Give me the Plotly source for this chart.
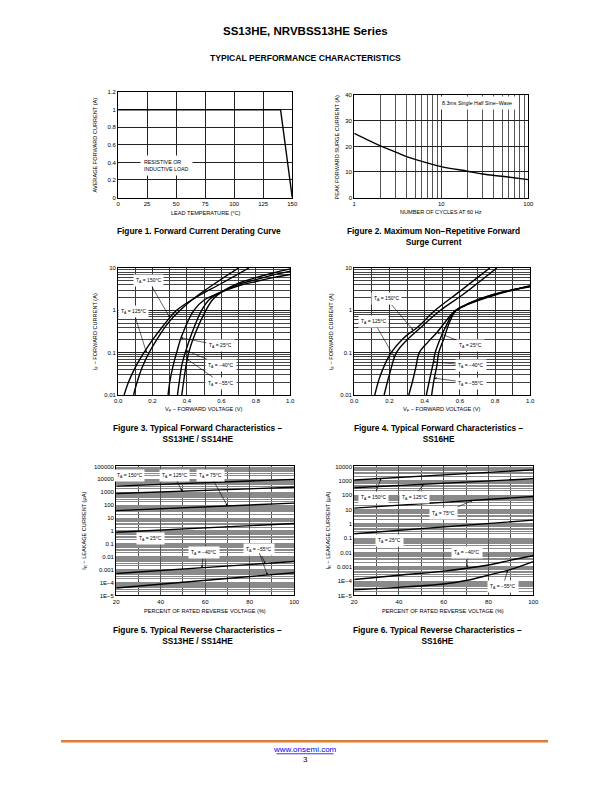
import plotly.graph_objects as go

W, H = 612, 792
FONT = "Liberation Sans, Arial, sans-serif"

# ---------------- data ----------------
# Figure 1: forward current derating
f1_temp = [0, 140, 150]
f1_amp = [1.0, 1.0, 0.0]

# Figure 2: surge current vs cycles
f2_cycles = [1, 2, 3, 4, 5, 10, 20, 30, 50, 100]
f2_amp = [25.1, 20.2, 17.8, 16.0, 14.9, 12.1, 10.3, 9.2, 8.3, 7.0]

# Figure 3: forward characteristics SS13HE / SS14HE
f3_v150 = [0.035, 0.06, 0.10, 0.15, 0.20, 0.26, 0.34, 0.45, 0.60, 0.76]
f3_i150 = [0.01, 0.02, 0.045, 0.1, 0.2, 0.42, 1.0, 2.0, 4.3, 10]
f3_v125 = [0.09, 0.11, 0.14, 0.18, 0.23, 0.29, 0.36, 0.46, 0.58, 0.70]
f3_i125 = [0.01, 0.02, 0.045, 0.1, 0.22, 0.5, 1.0, 2.2, 4.8, 10]
f3_v25 = [0.29, 0.30, 0.32, 0.34, 0.37, 0.44, 0.50, 0.59, 0.70, 0.80, 0.90, 1.0]
f3_i25 = [0.01, 0.02, 0.05, 0.1, 0.25, 1.0, 1.75, 2.6, 3.8, 4.8, 5.9, 7.0]
f3_vm40 = [0.345, 0.355, 0.37, 0.39, 0.43, 0.485, 0.53, 0.59, 0.70, 0.80, 0.90, 1.0]
f3_im40 = [0.01, 0.02, 0.05, 0.1, 0.3, 1.0, 1.8, 2.6, 4.1, 5.3, 6.8, 8.4]
f3_vm55 = [0.37, 0.38, 0.395, 0.41, 0.45, 0.51, 0.55, 0.60, 0.70, 0.80, 0.90, 1.0]
f3_im55 = [0.01, 0.02, 0.05, 0.1, 0.3, 1.0, 1.8, 2.7, 4.4, 5.9, 7.6, 9.5]

# Figure 4: forward characteristics SS16HE
f4_v150 = [0.117, 0.15, 0.21, 0.28, 0.36, 0.46, 0.60, 0.77]
f4_i150 = [0.01, 0.03, 0.1, 0.22, 0.4, 1.0, 2.8, 10]
f4_v125 = [0.17, 0.20, 0.24, 0.30, 0.38, 0.49, 0.62, 0.81]
f4_i125 = [0.01, 0.03, 0.1, 0.2, 0.4, 1.0, 2.4, 10]
f4_v25 = [0.31, 0.33, 0.35, 0.37, 0.42, 0.47, 0.52, 0.57, 0.65, 0.80, 1.0]
f4_i25 = [0.01, 0.02, 0.045, 0.1, 0.18, 0.3, 0.55, 0.95, 1.4, 2.3, 3.8]
f4_vm40 = [0.41, 0.43, 0.45, 0.46, 0.49, 0.53, 0.57, 0.65, 0.80, 1.0]
f4_im40 = [0.01, 0.025, 0.06, 0.1, 0.22, 0.5, 0.95, 1.45, 2.4, 3.7]
f4_vm55 = [0.44, 0.455, 0.47, 0.48, 0.51, 0.54, 0.575, 0.65, 0.80, 1.0]
f4_im55 = [0.01, 0.025, 0.05, 0.1, 0.22, 0.5, 0.95, 1.45, 2.45, 3.6]

# Figure 5: reverse characteristics SS13HE / SS14HE
f5_pct = [20, 100]
f5_i150 = [3000, 10000]
f5_i125 = [800, 2450]
f5_i75 = [38, 145]
f5_i25 = [0.8, 3.8]
f5_im40 = [5e-4, 4.3e-3]
f5_im55 = [3.8e-5, 5.8e-4]

# Figure 6: reverse characteristics SS16HE
f6_pct = [20, 100]
f6_i150 = [1130, 5800]
f6_i125 = [330, 1400]
f6_i75 = [12.4, 81]
f6_i25 = [0.2, 1.8]
f6_pct_m40 = [20, 40, 60, 80, 90, 100]
f6_im40 = [1.3e-4, 2.6e-4, 5e-4, 1.35e-3, 2.9e-3, 5.9e-3]
f6_pct_m55 = [20, 40, 60, 70, 80, 90, 100]
f6_im55 = [2.5e-5, 3.7e-5, 6.3e-5, 1.1e-4, 2.6e-4, 6.6e-4, 2.3e-3]

# tick labels
f1_xticks = [0, 25, 50, 75, 100, 125, 150]
f1_yticks = [0, 0.2, 0.4, 0.6, 0.8, 1.0, 1.2]
f1_ytext = ["0", "0.2", "0.4", "0.6", "0.8", "1", "1.2"]
fwd_xticks = [0, 0.2, 0.4, 0.6, 0.8, 1.0]
fwd_xtext = ["0.0", "0.2", "0.4", "0.6", "0.8", "1.0"]
fwd_xminor = [0.1, 0.3, 0.5, 0.7, 0.9]
fwd_yticks = [0.01, 0.1, 1, 10]
fwd_ytext = ["0.01", "0.1", "1", "10"]
rev_xticks = [20, 40, 60, 80, 100]
rev_xminor = [30, 50, 70, 90]
f5_yticks = [1e-5, 1e-4, 1e-3, 1e-2, 1e-1, 1, 10, 100, 1000, 10000, 100000]
f5_ytext = ["1E\u22125", "1E\u22124", "0.001", "0.01", "0.1", "1", "10", "100", "1000", "10000", "100000"]
f6_yticks = f5_yticks[:-1]
f6_ytext = f5_ytext[:-1]


def dom_x(a, b):
    return [a / W, b / W]


def dom_y(top, bottom):
    return [1 - bottom / H, 1 - top / H]


def minors(lo, hi):
    out = []
    for k in range(lo, hi):
        for m in range(2, 10):
            out.append(m * 10 ** k)
    return out


def axis(**kw):
    d = dict(showline=True, linecolor="black", linewidth=1, mirror=True,
             ticks="", showgrid=True, gridcolor="#222", gridwidth=0.7,
             zeroline=False, fixedrange=True,
             tickfont=dict(family=FONT, size=6, color="black"))
    d.update(kw)
    return d


fig = go.Figure()
LINE = dict(color="black", width=1.4)


def add(x, y, n, shape="spline"):
    xa = "x" if n == 1 else f"x{n}"
    ya = "y" if n == 1 else f"y{n}"
    fig.add_trace(go.Scatter(x=x, y=y, mode="lines", xaxis=xa, yaxis=ya,
                             line=dict(LINE, shape=shape), showlegend=False,
                             hoverinfo="skip"))


add(f1_temp, f1_amp, 1, "linear")
add(f2_cycles, f2_amp, 2)
for v, i in [(f3_v150, f3_i150), (f3_v125, f3_i125), (f3_v25, f3_i25),
             (f3_vm40, f3_im40), (f3_vm55, f3_im55)]:
    add(v, i, 3)
for v, i in [(f4_v150, f4_i150), (f4_v125, f4_i125), (f4_v25, f4_i25),
             (f4_vm40, f4_im40), (f4_vm55, f4_im55)]:
    add(v, i, 4)
for i in [f5_i150, f5_i125, f5_i75, f5_i25, f5_im40, f5_im55]:
    add(f5_pct, i, 5, "linear")
for x, i in [(f6_pct, f6_i150), (f6_pct, f6_i125), (f6_pct, f6_i75),
             (f6_pct, f6_i25), (f6_pct_m40, f6_im40), (f6_pct_m55, f6_im55)]:
    add(x, i, 6)

layout = dict(
    width=W, height=H, margin=dict(l=0, r=0, t=0, b=0),
    paper_bgcolor="white", plot_bgcolor="white", showlegend=False,
    font=dict(family=FONT, color="black"),
)
# Fig 1
layout["xaxis"] = axis(domain=dom_x(116, 293), anchor="y", range=[0, 150],
                       tickmode="array", tickvals=f1_xticks)
layout["yaxis"] = axis(domain=dom_y(90, 196), anchor="x", range=[0, 1.2],
                       tickmode="array", tickvals=f1_yticks, ticktext=f1_ytext)
# Fig 2
layout["xaxis2"] = axis(domain=dom_x(356, 533), anchor="y2", type="log", range=[0, 2],
                        tickmode="array", tickvals=[1, 10, 100], ticktext=["1", "10", "100"],
                        gridcolor="#333",
                        minor=dict(tickmode="array", tickvals=minors(0, 2), showgrid=True,
                                   gridcolor="#555", gridwidth=0.7, ticks=""))
layout["yaxis2"] = axis(domain=dom_y(93, 196), anchor="x2", range=[0, 40],
                        tickmode="array", tickvals=[0, 10, 20, 30, 40])
# Fig 3/4
for n, (a, b) in [(3, (116, 291)), (4, (356, 535))]:
    layout[f"xaxis{n}"] = axis(domain=dom_x(a, b), anchor=f"y{n}", range=[0, 1],
                               tickmode="array", tickvals=fwd_xticks, ticktext=fwd_xtext,
                               gridcolor="#333", gridwidth=0.6,
                               minor=dict(tickmode="array", tickvals=fwd_xminor, showgrid=True,
                                          gridcolor="#333", gridwidth=0.6, ticks=""))
    layout[f"yaxis{n}"] = axis(domain=dom_y(267, 395), anchor=f"x{n}", type="log", range=[-2, 1],
                               tickmode="array", tickvals=fwd_yticks, ticktext=fwd_ytext,
                               gridcolor="#222", gridwidth=0.7,
                               minor=dict(tickmode="array", tickvals=minors(-2, 1), showgrid=True,
                                          gridcolor="#444", gridwidth=0.5, ticks=""))
# Fig 5/6
for n, (a, b), yr, tv, tt in [(5, (114, 295), [-5, 5], f5_yticks, f5_ytext),
                              (6, (356, 538), [-5, 4], f6_yticks, f6_ytext)]:
    layout[f"xaxis{n}"] = axis(domain=dom_x(a, b), anchor=f"y{n}", range=[20, 100],
                               tickmode="array", tickvals=rev_xticks,
                               gridcolor="#555", gridwidth=0.7,
                               minor=dict(tickmode="array", tickvals=rev_xminor, showgrid=True,
                                          gridcolor="#555", gridwidth=0.7, ticks=""))
    layout[f"yaxis{n}"] = axis(domain=dom_y(467, 597), anchor=f"x{n}", type="log", range=yr,
                               tickmode="array", tickvals=tv, ticktext=tt,
                               gridcolor="#8a8a8a", gridwidth=1,
                               minor=dict(tickmode="array", tickvals=minors(yr[0], yr[1]),
                                          showgrid=True, gridcolor="#8a8a8a", gridwidth=1.1,
                                          ticks=""))

fig.update_layout(**layout)

ann = []


def paper_text(text, x, y, size, bold=False, color="black", xanchor="center", angle=0):
    t = f"<b>{text}</b>" if bold else text
    ann.append(dict(text=t, x=x / W, y=1 - y / H, xref="paper", yref="paper",
                    showarrow=False, xanchor=xanchor, yanchor="middle", textangle=angle,
                    font=dict(family=FONT, size=size, color=color)))


# header
paper_text("SS13HE, NRVBSS13HE Series", 306, 28, 11.5, True)
paper_text("TYPICAL PERFORMANCE CHARACTERISTICS", 306, 55, 8.6, True)

# axis titles
TS = 5.6
paper_text("AVERAGE FORWARD CURRENT (A)", 92, 143, TS, angle=-90)
paper_text("LEAD TEMPERATURE (\u00b0C)", 205, 212, TS)
paper_text("PEAK FORWARD SURGE CURRENT (A)", 338, 145, TS, angle=-90)
paper_text("NUMBER OF CYCLES AT 60 Hz", 444, 211, TS)
paper_text("I<sub>F</sub> \u2212 FORWARD CURRENT (A)", 93, 331, TS, angle=-90)
paper_text("V<sub>F</sub> \u2212 FORWARD VOLTAGE (V)", 203, 410, TS)
paper_text("I<sub>F</sub> \u2212 FORWARD CURRENT (A)", 333, 331, TS, angle=-90)
paper_text("V<sub>F</sub> \u2212 FORWARD VOLTAGE (V)", 445, 410, TS)
paper_text("I<sub>R</sub> \u2212 LEAKAGE CURRENT (\u03bcA)", 82, 532, TS, angle=-90)
paper_text("PERCENT OF RATED REVERSE VOLTAGE (%)", 204, 613, TS)
paper_text("I<sub>R</sub> \u2212 LEAKAGE CURRENT (\u03bcA)", 330, 532, TS, angle=-90)
paper_text("PERCENT OF RATED REVERSE VOLTAGE (%)", 446, 613, TS)

# captions
CS = 8.3
paper_text("Figure 1. Forward Current Derating Curve", 198, 230, CS, True)
paper_text("Figure 2. Maximum Non\u2212Repetitive Forward<br>Surge Current", 437, 235.5, CS, True)
paper_text("Figure 3. Typical Forward Characteristics \u2212<br>SS13HE / SS14HE", 197, 433.5, CS, True)
paper_text("Figure 4. Typical Forward Characteristics \u2212<br>SS16HE", 442, 433.5, CS, True)
paper_text("Figure 5. Typical Reverse Characteristics \u2212<br>SS13HE / SS14HE", 197, 637, CS, True)
paper_text("Figure 6. Typical Reverse Characteristics \u2212<br>SS16HE", 441, 637, CS, True)

# footer
paper_text("www.onsemi.com", 306, 752, 8, False, "#0000ee")
paper_text("3", 306, 762, 8)

# in-plot labels
LS = 5


def label(n, text, cx, cy, tip=None, size=LS):
    xr = "x" if n == 1 else f"x{n}"
    yr = "y" if n == 1 else f"y{n}"
    d = dict(text=text, xref=xr, yref=yr, bgcolor="white", borderpad=2,
             font=dict(family=FONT, size=size, color="black"))
    if tip is None:
        d.update(x=cx, y=cy, showarrow=False)
    else:
        d.update(x=tip[0], y=tip[1], ax=cx, ay=cy, axref=xr, ayref=yr,
                 showarrow=True, arrowhead=2, arrowsize=0.7, arrowwidth=0.6,
                 arrowcolor="black")
    ann.append(d)


def arrow_only(n, frm, tip):
    xr = f"x{n}"
    yr = f"y{n}"
    ann.append(dict(text="", x=tip[0], y=tip[1], ax=frm[0], ay=frm[1], xref=xr, yref=yr,
                    axref=xr, ayref=yr, showarrow=True, arrowhead=2, arrowsize=0.7,
                    arrowwidth=0.6, arrowcolor="black"))


T = "T<sub>A</sub> = "
ann.append(dict(text="RESISTIVE OR<br>INDUCTIVE LOAD", x=19, y=0.37, xref="x", yref="y",
                xanchor="left", align="left", showarrow=False, bgcolor="white", borderpad=3,
                font=dict(family=FONT, size=5.3, color="black")))
ann.append(dict(text="8.3ms Single Half Sine\u2212Wave", x=1.41, y=36.8, xref="x2", yref="y2",
                showarrow=False, bgcolor="white", borderpad=3,
                font=dict(family=FONT, size=5.3, color="black")))

# fig 3
label(3, T + "150\u00b0C", 0.177, 0.70, (0.30, -0.17))
label(3, T + "125\u00b0C", 0.09, -0.03, (0.165, -1.0))
label(3, T + "25\u00b0C", 0.594, -0.83, (0.365, -0.65))
label(3, T + "\u221240\u00b0C", 0.60, -1.30, (0.395, -0.95))
label(3, T + "\u221255\u00b0C", 0.60, -1.72, (0.40, -1.15))
# fig 4
label(4, T + "150\u00b0C", 0.184, 0.27, (0.335, -0.47))
label(4, T + "125\u00b0C", 0.112, -0.27, (0.23, -1.12))
label(4, T + "25\u00b0C", 0.659, -0.83, (0.47, -0.52))
label(4, T + "\u221240\u00b0C", 0.665, -1.30, (0.45, -1.22))
label(4, T + "\u221255\u00b0C", 0.665, -1.72, (0.455, -1.6))
# fig 5
label(5, T + "150\u00b0C", 26.2, 4.31)
label(5, T + "125\u00b0C", 46.1, 4.31, (49.6, 3.08))
label(5, T + "75\u00b0C", 62.4, 4.31, (70, 1.94))
label(5, T + "25\u00b0C", 35.5, -0.62)
label(5, T + "\u221240\u00b0C", 59.3, -1.69, (58.5, -2.85))
label(5, T + "\u221255\u00b0C", 84.1, -1.46, (87, -2.52))
arrow_only(5, (84.1, -1.6), (88, -3.42))
# fig 6
label(6, T + "150\u00b0C", 28.8, 1.85, (32, 3.16))
label(6, T + "125\u00b0C", 46.8, 1.85, (51, 2.77))
label(6, T + "75\u00b0C", 60, 0.75, (73, 1.64))
label(6, T + "25\u00b0C", 35.8, -1.19)
label(6, T + "\u221240\u00b0C", 70.5, -2.02, (70.5, -3.05))
label(6, T + "\u221255\u00b0C", 86.4, -4.38, (88.6, -3.24))

fig.update_layout(annotations=ann)

fig.update_layout(shapes=[
    dict(type="line", xref="paper", yref="paper", x0=58 / W, x1=553 / W,
         y0=1 - 744 / H, y1=1 - 744 / H, line=dict(color="#dc7f34", width=2.5)),
    dict(type="line", xref="paper", yref="paper", x0=277 / W, x1=335 / W,
         y0=1 - 756.5 / H, y1=1 - 756.5 / H, line=dict(color="#0000ee", width=0.8)),
])

fig.write_html("out.html", config={"displayModeBar": False},
               post_script="document.body.style.margin='0';document.body.style.overflow='hidden';")
